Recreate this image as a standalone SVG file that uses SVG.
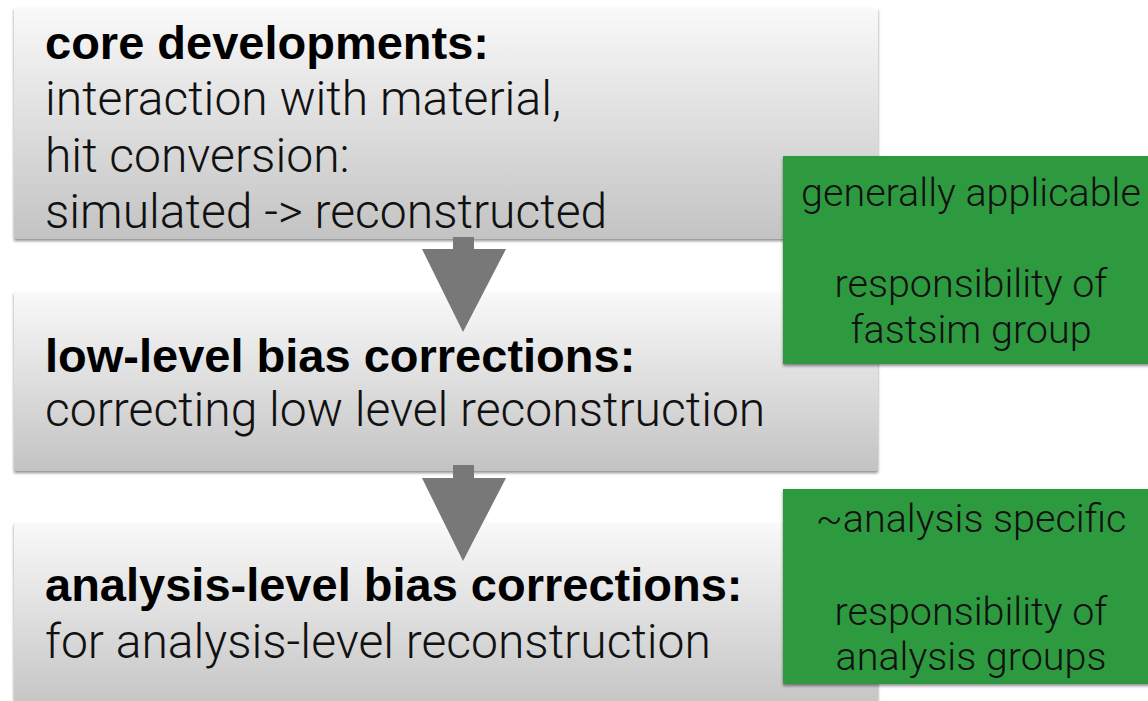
<svg xmlns="http://www.w3.org/2000/svg" width="1148" height="701" viewBox="0 0 1148 701">
  <defs>
    <linearGradient id="panelFill" x1="0" y1="0" x2="0" y2="1">
      <stop offset="0" stop-color="#f9f9f9"/>
      <stop offset="1" stop-color="#c3c3c3"/>
    </linearGradient>
    <filter id="dropShadow" x="-5%" y="-5%" width="110%" height="115%">
      <feGaussianBlur in="SourceAlpha" stdDeviation="1.5"/>
      <feOffset dx="0" dy="2" result="blur"/>
      <feComponentTransfer><feFuncA type="linear" slope="0.45"/></feComponentTransfer>
      <feMerge><feMergeNode/><feMergeNode in="SourceGraphic"/></feMerge>
    </filter>
  </defs>
  <style>
    .panel { fill: url(#panelFill); filter: url(#dropShadow); }
    .note { fill: #2f9a40; filter: url(#dropShadow); }
    .head { font-family: "Liberation Sans", Arial, sans-serif; font-weight: bold; font-size: 47px; fill: #000; }
    .body { font-family: Roboto, "Liberation Sans", sans-serif; font-weight: 300; font-size: 48px; fill: #111; }
    .noteText { font-family: Roboto, "Liberation Sans", sans-serif; font-weight: 300; font-size: 39.5px; fill: #111; text-anchor: middle; }
    .arrow { fill: #787878; }
  </style>
  <rect width="1148" height="701" fill="#ffffff"/>

  <g id="core">
    <rect class="panel" x="14" y="8" width="864" height="231"/>
    <text class="head" x="45" y="59">core developments:</text>
    <text class="body" x="45" y="115">interaction with material,</text>
    <text class="body" x="45" y="172">hit conversion:</text>
    <text class="body" x="45" y="228">simulated -&gt; reconstructed</text>
  </g>

  <g id="lowlevel">
    <rect class="panel" x="14" y="292" width="864" height="179"/>
    <text class="head" x="45" y="372">low-level bias corrections:</text>
    <text class="body" x="45" y="426">correcting low level reconstruction</text>
  </g>

  <g id="analysislevel">
    <rect class="panel" x="14" y="523" width="864" height="190"/>
    <text class="head" x="45" y="601">analysis-level bias corrections:</text>
    <text class="body" x="45" y="658">for analysis-level reconstruction</text>
  </g>

  <g id="connectors">
    <path class="arrow" d="M453 237 H474 V249 H506 L463 332 L422 249 H453 Z"/>
    <path class="arrow" d="M453 465 H474 V478 H506 L463 561 L422 478 H453 Z"/>
  </g>

  <g id="fastsimNote">
    <rect class="note" x="783" y="156" width="370" height="208"/>
    <text class="noteText" x="971" y="206">generally applicable</text>
    <text class="noteText" x="971" y="297">responsibility of</text>
    <text class="noteText" x="971" y="343">fastsim group</text>
  </g>

  <g id="analysisNote">
    <rect class="note" x="783" y="489" width="370" height="195"/>
    <text class="noteText" x="971" y="532">~analysis specific</text>
    <text class="noteText" x="971" y="625">responsibility of</text>
    <text class="noteText" x="971" y="670">analysis groups</text>
  </g>
</svg>
